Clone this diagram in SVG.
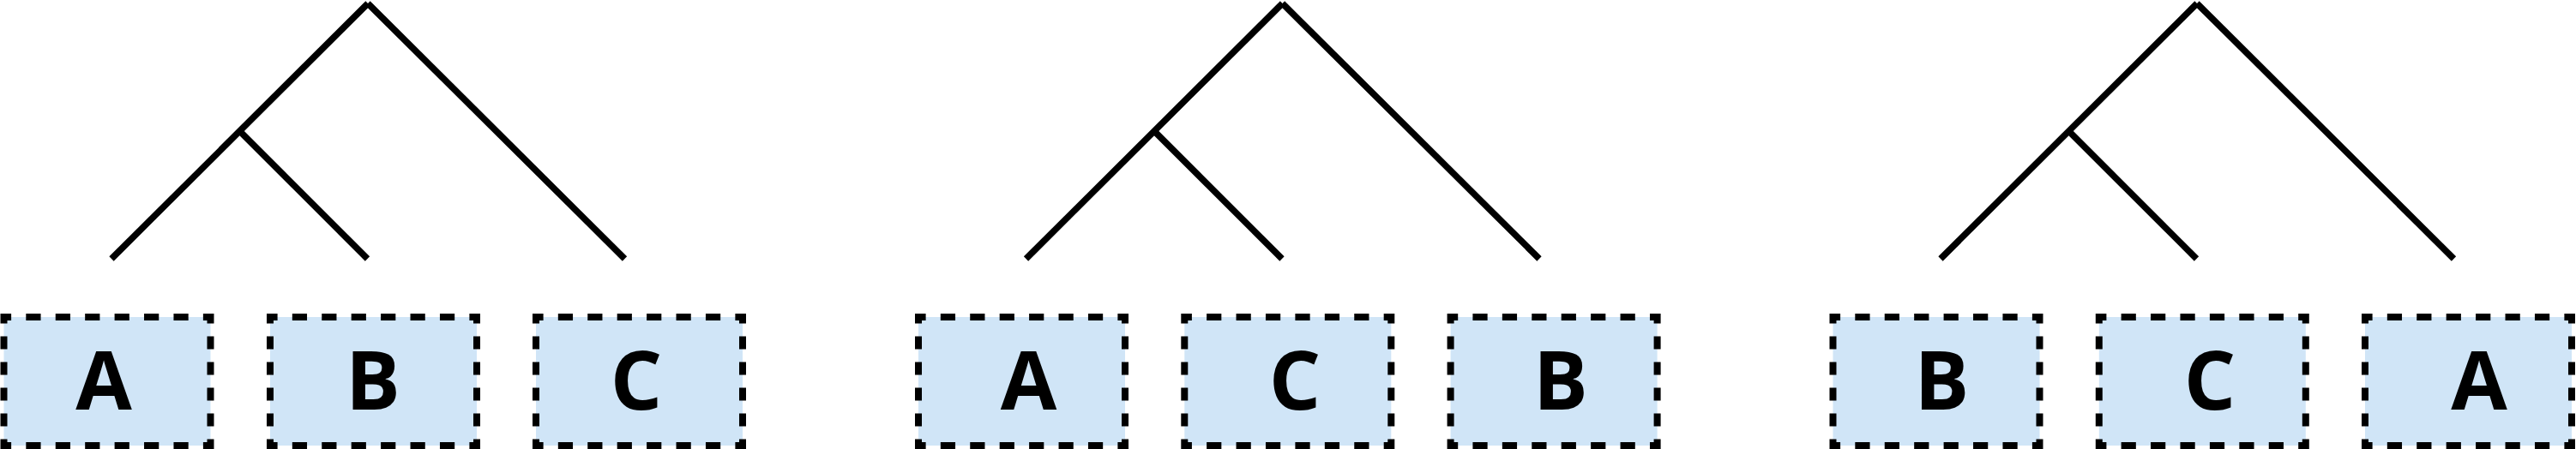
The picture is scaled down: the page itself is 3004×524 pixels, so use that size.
<svg xmlns="http://www.w3.org/2000/svg" width="3004" height="524" viewBox="0 0 3004 524">
<style>
.bg{fill:#ffffff}
.box{fill:#d0e5f7}
.dash{fill:none;stroke:#000;stroke-width:8;stroke-linejoin:miter;stroke-dasharray:0 8.607 17.214 17.214 17.214 17.214 17.214 17.214 17.214 17.214 17.214 17.214 17.214 17.214 16.107 15 15 15 15 15 15 15 15 15 16.107 17.214 17.214 17.214 17.214 17.214 17.214 17.214 17.214 17.214 17.214 17.214 17.214 17.214 16.107 15 15 15 15 15 15 15 15 15 16.107 8.607}
.lbl{font-family:"Open Sans","Liberation Sans",sans-serif;font-weight:bold;font-size:95px;fill:#000;text-anchor:middle}
.edge{fill:none;stroke:#000;stroke-width:7.5;stroke-linecap:butt}
</style>
<defs>
<path id="frame" d="M17.214,0 H241 V150 H0 V0 Z"/>
</defs>
<rect class="bg" x="0" y="0" width="3004" height="524"/>
<g id="connectors">
<g id="tree1">
<line class="edge" x1="429" y1="4" x2="130" y2="302"/>
<line class="edge" x1="429" y1="4" x2="728.5" y2="302"/>
<line class="edge" x1="279.5" y1="153" x2="428.5" y2="302"/>
</g>
<g id="tree2" transform="translate(1066.5,0)">
<line class="edge" x1="429" y1="4" x2="130" y2="302"/>
<line class="edge" x1="429" y1="4" x2="728.5" y2="302"/>
<line class="edge" x1="279.5" y1="153" x2="428.5" y2="302"/>
</g>
<g id="tree3" transform="translate(2133,0)">
<line class="edge" x1="429" y1="4" x2="130" y2="302"/>
<line class="edge" x1="429" y1="4" x2="728.5" y2="302"/>
<line class="edge" x1="279.5" y1="153" x2="428.5" y2="302"/>
</g>
</g>
<g id="g1-A" transform="translate(4.5,370)"><rect class="box" width="241" height="150"/><use href="#frame" class="dash"/><text class="lbl" x="116.5" y="108">A</text></g>
<g id="g1-B" transform="translate(315,370)"><rect class="box" width="241" height="150"/><use href="#frame" class="dash"/><text class="lbl" x="120" y="108">B</text></g>
<g id="g1-C" transform="translate(625,370)"><rect class="box" width="241" height="150"/><use href="#frame" class="dash"/><text class="lbl" x="117" y="108">C</text></g>
<g id="g2-A" transform="translate(1071,370)"><rect class="box" width="241" height="150"/><use href="#frame" class="dash"/><text class="lbl" x="128.5" y="108">A</text></g>
<g id="g2-C" transform="translate(1381.3,370)"><rect class="box" width="241" height="150"/><use href="#frame" class="dash"/><text class="lbl" x="128.7" y="108">C</text></g>
<g id="g2-B" transform="translate(1691.6,370)"><rect class="box" width="241" height="150"/><use href="#frame" class="dash"/><text class="lbl" x="128.4" y="108">B</text></g>
<g id="g3-B" transform="translate(2137.5,370)"><rect class="box" width="241" height="150"/><use href="#frame" class="dash"/><text class="lbl" x="127" y="108">B</text></g>
<g id="g3-C" transform="translate(2447.8,370)"><rect class="box" width="241" height="150"/><use href="#frame" class="dash"/><text class="lbl" x="129.2" y="108">C</text></g>
<g id="g3-A" transform="translate(2758,370)"><rect class="box" width="241" height="150"/><use href="#frame" class="dash"/><text class="lbl" x="133" y="108">A</text></g>
</svg>
